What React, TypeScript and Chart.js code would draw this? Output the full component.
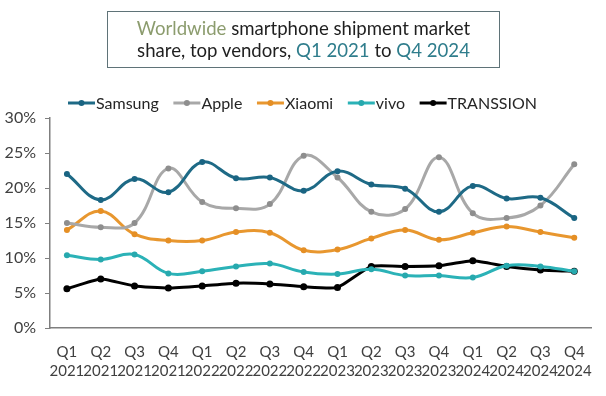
import React, { useEffect, useRef } from 'react';
import { Chart, registerables } from 'chart.js';

Chart.register(...registerables);

const quarters = ['Q1', 'Q2', 'Q3', 'Q4', 'Q1', 'Q2', 'Q3', 'Q4', 'Q1', 'Q2', 'Q3', 'Q4', 'Q1', 'Q2', 'Q3', 'Q4'];
const years = ['2021', '2021', '2021', '2021', '2022', '2022', '2022', '2022', '2023', '2023', '2023', '2023', '2024', '2024', '2024', '2024'];

const samsung = [22.0, 18.3, 21.3, 19.4, 23.7, 21.4, 21.5, 19.6, 22.4, 20.5, 19.9, 16.6, 20.3, 18.5, 18.6, 15.7];
const apple = [15.0, 14.4, 15.0, 22.8, 18.0, 17.1, 17.7, 24.6, 21.5, 16.6, 17.0, 24.4, 16.4, 15.7, 17.5, 23.4];
const xiaomi = [14.0, 16.7, 13.4, 12.5, 12.5, 13.7, 13.6, 11.1, 11.2, 12.8, 14.0, 12.6, 13.6, 14.5, 13.7, 12.9];
const vivo = [10.4, 9.8, 10.5, 7.8, 8.1, 8.8, 9.2, 8.0, 7.7, 8.4, 7.5, 7.5, 7.2, 8.9, 8.8, 8.1];
const transsion = [5.6, 7.0, 6.0, 5.7, 6.0, 6.4, 6.3, 5.9, 5.8, 8.8, 8.8, 8.9, 9.6, 8.8, 8.3, 8.1];

const seriesNames = ['Samsung', 'Apple', 'Xiaomi', 'vivo', 'TRANSSION'];
const lineColors = ['#1E6A86', '#A8A8A8', '#E8972F', '#2BB2B7', '#000000'];
const pointColors = ['#1A6482', '#8E8E8E', '#E58F25', '#27A9AE', '#000000'];

const FONT = 'Lato, "Open Sans", sans-serif';

const legendPlugin = {
  id: 'customLegend',
  afterDraw(chart: any) {
    const ctx = chart.ctx;
    ctx.save();
    ctx.font = `16px ${FONT}`;
    ctx.textBaseline = 'middle';
    const startX = 68;
    const endX = 537;
    const lineLen = 27;
    const textGap = 1;
    const y = 103;
    const widths = chart.data.datasets.map((d: any) => ctx.measureText(d.label).width);
    const total = widths.reduce((a: number, b: number) => a + b, 0);
    const n = widths.length;
    const gap = (endX - startX - n * (lineLen + textGap) - total) / (n - 1);
    let x = startX;
    chart.data.datasets.forEach((d: any, i: number) => {
      ctx.strokeStyle = d.borderColor;
      ctx.lineWidth = 3;
      ctx.beginPath();
      ctx.moveTo(x, y);
      ctx.lineTo(x + lineLen, y);
      ctx.stroke();
      ctx.fillStyle = d.pointBackgroundColor;
      ctx.beginPath();
      ctx.arc(x + lineLen / 2, y, 3, 0, Math.PI * 2);
      ctx.fill();
      ctx.fillStyle = '#262626';
      ctx.fillText(d.label, x + lineLen + textGap, y + 1);
      x += lineLen + textGap + widths[i] + gap;
    });
    ctx.restore();
  },
};

export default function App() {
  const ref = useRef<HTMLCanvasElement>(null);
  useEffect(() => {
    const labels = quarters.map((q, i) => [q, years[i]]);
    const values = [samsung, apple, xiaomi, vivo, transsion];
    const chart = new Chart(ref.current as HTMLCanvasElement, {
      type: 'line',
      data: {
        labels,
        datasets: values.map((v, i) => ({
          label: seriesNames[i],
          data: v,
          borderColor: lineColors[i],
          backgroundColor: lineColors[i],
          pointBackgroundColor: pointColors[i],
          pointBorderColor: pointColors[i],
          pointRadius: i === 4 ? 3.5 : 3,
          pointBorderWidth: 0,
          borderWidth: 3,
          tension: i === 4 ? 0.15 : 0.4,
          fill: false,
        })),
      },
      options: {
        animation: false,
        responsive: false,
        maintainAspectRatio: false,
        layout: { padding: { top: 118, right: 11, left: 0, bottom: 0 } },
        plugins: { legend: { display: false }, tooltip: { enabled: false } },
        scales: {
          x: {
            offset: true,
            grid: { display: true, drawOnChartArea: false, drawTicks: false },
            border: { display: true, color: '#7F7F7F', width: 1.5 },
            ticks: {
              autoSkip: false,
              maxRotation: 0,
              minRotation: 0,
              padding: 14,
              color: '#404040',
              font: { family: FONT, size: 15, lineHeight: 1.3 },
            },
            afterFit: (s: any) => {
              s.height = 68;
            },
          },
          y: {
            min: 0,
            max: 30,
            ticks: {
              stepSize: 5,
              padding: 9,
              color: '#404040',
              font: { family: FONT, size: 16 },
              callback: (v: any) => v + '%',
            },
            grid: { display: true, drawOnChartArea: false, drawTicks: true, tickLength: 5, tickColor: '#7F7F7F' },
            border: { display: true, color: '#7F7F7F', width: 1.5 },
            afterFit: (s: any) => {
              s.width = 50;
            },
          },
        },
      },
      plugins: [legendPlugin],
    });
    return () => chart.destroy();
  }, []);

  return (
    <div style={{ position: 'absolute', left: 0, top: 0, width: 606, height: 396, background: '#ffffff' }}>
      <canvas ref={ref} width={606} height={396} style={{ position: 'absolute', left: 0, top: 0 }} />
      <div
        style={{
          position: 'absolute',
          left: 107,
          top: 11,
          width: 393,
          height: 57,
          boxSizing: 'border-box',
          border: '1.5px solid #5F7378',
          textAlign: 'center',
          fontFamily: FONT,
          fontSize: 18.6,
          lineHeight: '22px',
          paddingTop: 5,
          color: '#1F1F1F',
        }}
      >
        <span style={{ color: '#8C9C6E' }}>Worldwide</span> smartphone shipment market
        <br />
        share, top vendors, <span style={{ color: '#2F7D8C' }}>Q1 2021</span> to{' '}
        <span style={{ color: '#2F7D8C' }}>Q4 2024</span>
      </div>
    </div>
  );
}
